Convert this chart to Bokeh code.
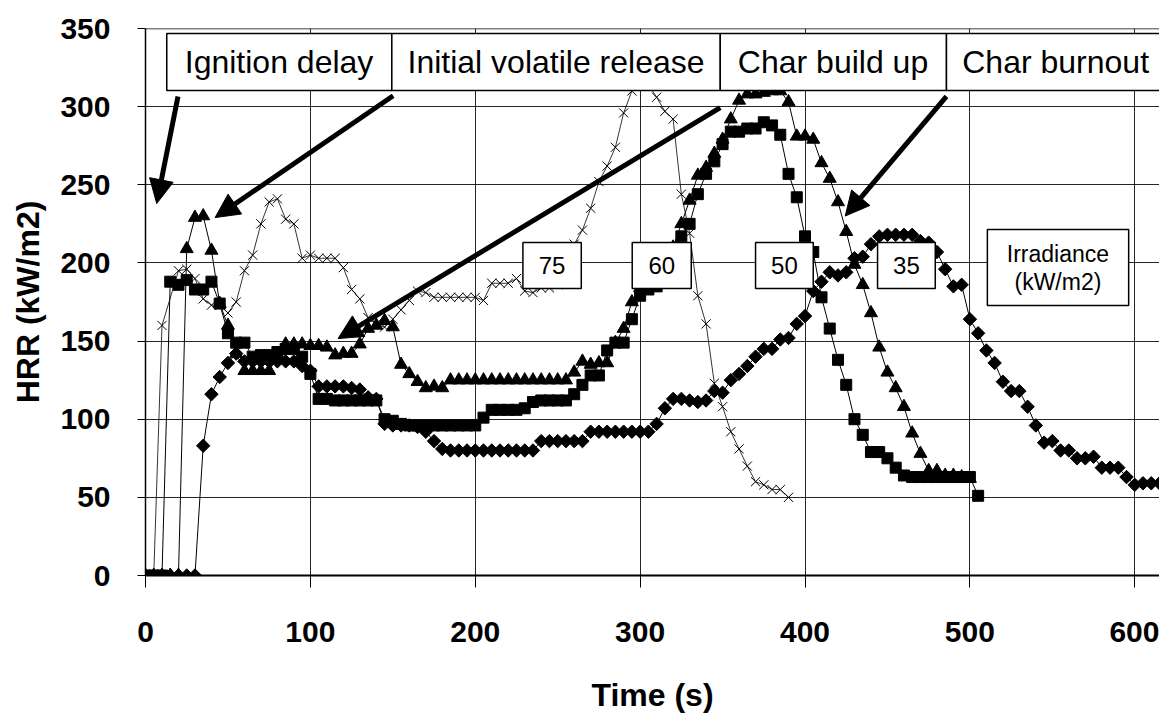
from bokeh.plotting import figure
from bokeh.models import Label, BoxAnnotation, Arrow, NormalHead, Span, FixedTicker, Range1d
from bokeh.embed import file_html
from bokeh.resources import INLINE
import numpy as np

# ---------------- data ----------------
t75 = [0, 5, 10, 20, 25, 30, 35, 40, 45, 50, 55, 60, 65, 70, 75, 80, 85, 90, 95, 100,
       105, 110, 115, 120, 125, 130, 135, 140, 145, 150, 155, 160, 165, 170, 175, 180,
       185, 190, 195, 200, 205, 210, 215, 220, 225, 230, 235, 240, 245, 250, 255, 260,
       265, 270, 275, 280, 285, 290, 295, 300, 305, 310, 315, 320, 325, 330, 335, 340,
       345, 350, 355, 360, 365, 370, 375, 380, 385, 390]
v75 = [0, 0, 160, 195, 196, 190, 177, 173, 173, 168, 175, 195, 205, 225, 239, 241, 228,
       225, 203, 205, 203, 203, 203, 197, 183, 177, 165, 161, 159, 164, 170, 176, 182,
       181, 178, 178, 178, 178, 178, 178, 176, 187, 187, 187, 190, 182, 181, 184, 184,
       186, 195, 212, 221, 235, 252, 262, 274, 296, 310, 318, 314, 306, 297, 292, 244,
       219, 179, 161, 123, 108, 92, 81, 70, 60, 58, 55, 55, 50]

t60 = [0, 5, 10, 15, 20, 25, 30, 35, 40, 45, 50, 55, 60, 65, 70, 75, 80, 85, 90, 95,
       100, 105, 110, 115, 120, 125, 130, 135, 140, 145, 150, 155, 160, 165, 170, 175,
       180, 185, 190, 195, 200, 205, 210, 215, 220, 225, 230, 235, 240, 245, 250, 255,
       260, 265, 270, 275, 280, 285, 290, 295, 300, 305, 310, 315, 320, 325, 330, 335,
       340, 345, 350, 355, 360, 365, 370, 375, 380, 385, 390, 395, 400, 405, 410, 415,
       420, 425, 430, 435, 440, 445, 450, 455, 460, 465, 470, 475, 480, 485, 490, 495, 500]
v60 = [0, 0, 0, 0, 0, 209, 229, 230, 208, 174, 160, 142, 131, 131, 131, 131, 140, 148,
       148, 148, 147, 147, 146, 141, 142, 142, 148, 158, 160, 163, 159, 135, 129, 124,
       120, 121, 120, 125, 125, 125, 125, 125, 125, 125, 125, 125, 125, 125, 125, 125,
       125, 125, 130, 137, 135, 136, 136, 149, 158, 175, 184, 190, 196, 202, 210, 225,
       240, 256, 261, 270, 279, 292, 304, 308, 308, 309, 310, 310, 303, 281, 281, 279,
       264, 254, 239, 220, 199, 186, 168, 146, 130, 120, 108, 91, 78, 67, 67, 64, 64, 63, 62]

t50 = [0, 5, 10, 15, 20, 25, 30, 35, 40, 45, 50, 55, 60, 65, 70, 75, 80, 85, 90, 95,
       100, 105, 110, 115, 120, 125, 130, 135, 140, 145, 150, 155, 160, 165, 170, 175,
       180, 185, 190, 195, 200, 205, 210, 215, 220, 225, 230, 235, 240, 245, 250, 255,
       260, 265, 270, 275, 280, 285, 290, 295, 300, 305, 310, 315, 320, 325, 330, 335,
       340, 345, 350, 355, 360, 365, 370, 375, 380, 385, 390, 395, 400, 405, 410, 415,
       420, 425, 430, 435, 440, 445, 450, 455, 460, 465, 470, 475, 480, 485, 490, 495,
       500, 505]
v50 = [0, 0, 0, 188, 186, 189, 183, 183, 188, 174, 155, 149, 149, 140, 141, 141, 143,
       145, 145, 140, 129, 113, 113, 112, 112, 112, 112, 112, 112, 100, 99, 97, 96, 96,
       96, 96, 96, 96, 96, 96, 96, 101, 106, 106, 106, 106, 107, 111, 112, 112, 112, 112,
       116, 122, 128, 128, 144, 149, 149, 164, 179, 183, 185, 190, 205, 217, 225, 244,
       257, 265, 276, 284, 284, 286, 286, 290, 288, 282, 257, 242, 217, 207, 178, 158,
       138, 122, 100, 90, 79, 79, 75, 69, 64, 63, 63, 63, 63, 63, 63, 63, 63, 51]

t35 = [0, 5, 10, 15, 20, 25, 30, 35, 40, 45, 50, 55, 60, 65, 70, 75, 80, 85, 90, 95,
       100, 105, 110, 115, 120, 125, 130, 135, 140, 145, 150, 155, 160, 165, 170, 175,
       180, 185, 190, 195, 200, 205, 210, 215, 220, 225, 230, 235, 240, 245, 250, 255,
       260, 265, 270, 275, 280, 285, 290, 295, 300, 305, 310, 315, 320, 325, 330, 335,
       340, 345, 350, 355, 360, 365, 370, 375, 380, 385, 390, 395, 400, 405, 410, 415,
       420, 425, 430, 435, 440, 445, 450, 455, 460, 465, 470, 475, 480, 485, 490, 495,
       500, 505, 510, 515, 520, 525, 530, 535, 540, 545, 550, 555, 560, 565, 570, 575,
       580, 585, 590, 595, 600, 605, 610, 615]
v35 = [0, 0, 0, 0, 0, 0, 0, 83, 116, 127, 136, 142, 137, 137, 137, 137, 137, 137, 137,
       134, 131, 121, 121, 121, 121, 120, 119, 114, 113, 97, 96, 96, 96, 95, 92, 86, 81,
       80, 80, 80, 80, 80, 80, 80, 80, 80, 80, 80, 86, 86, 86, 86, 86, 86, 92, 92, 92,
       92, 92, 92, 92, 92, 97, 107, 113, 113, 112, 111, 112, 118, 117, 125, 129, 134,
       140, 145, 145, 151, 152, 161, 166, 182, 188, 194, 192, 194, 203, 204, 212, 217,
       218, 218, 218, 218, 214, 213, 207, 196, 185, 186, 164, 155, 144, 136, 124, 118,
       118, 108, 96, 85, 86, 80, 80, 75, 75, 76, 69, 69, 69, 63, 58, 59, 59, 59]

x_ticks = [0, 100, 200, 300, 400, 500, 600]
y_ticks = [0, 50, 100, 150, 200, 250, 300, 350]

phase_labels = ["Ignition delay", "Initial volatile release", "Char build up", "Char burnout"]
irradiance_labels = ["75", "60", "50", "35"]

FONT = "Liberation Sans"

# ---------------- figure ----------------
p = figure(width=1159, height=715, output_backend="svg", toolbar_location=None,
           x_range=Range1d(0, 615), y_range=Range1d(0, 350),
           min_border_left=145, min_border_top=28, min_border_right=0,
           min_border_bottom=140)
p.background_fill_color = "white"
p.border_fill_color = "white"
p.outline_line_color = None

for ax in (p.xaxis[0], p.yaxis[0]):
    ax.major_label_text_font = FONT
    ax.major_label_text_font_style = "bold"
    ax.major_label_text_font_size = "30px"
    ax.major_label_text_color = "black"
    ax.axis_label_text_font = FONT
    ax.axis_label_text_font_style = "bold"
    ax.axis_label_text_font_size = "32px"
    ax.axis_label_text_color = "black"
    ax.axis_line_color = "black"
    ax.major_tick_line_color = "black"
    ax.minor_tick_line_color = None
    ax.major_tick_in = 0

p.xaxis.ticker = FixedTicker(ticks=x_ticks)
p.yaxis.ticker = FixedTicker(ticks=y_ticks)
p.xaxis.axis_label = "Time (s)"
p.yaxis.axis_label = "HRR (kW/m2)"
p.xaxis.major_tick_out = 12
p.yaxis.major_tick_out = 8
p.xaxis.axis_line_width = 2
p.yaxis.axis_line_width = 1.5
p.xaxis.major_label_standoff = 34
p.yaxis.major_label_standoff = 27
p.xaxis.axis_label_standoff = 32
p.yaxis.axis_label_standoff = 11

p.xgrid.ticker = FixedTicker(ticks=x_ticks)
p.ygrid.ticker = FixedTicker(ticks=y_ticks)
for g in (p.xgrid[0], p.ygrid[0]):
    g.grid_line_color = "black"
    g.grid_line_width = 1
    g.grid_line_alpha = 0.85

p.add_layout(Span(location=350, dimension="width", line_color="black", line_width=1.5))

# ---------------- series ----------------
p.line(t35, v35, line_color="black", line_width=1)
p.scatter(t35, v35, marker="square", angle=np.pi / 4, size=9.5, color="black")

p.line(t50, v50, line_color="black", line_width=1)
p.scatter(t50, v50, marker="square", size=11, color="black")

p.line(t60, v60, line_color="black", line_width=1)
p.scatter(t60, v60, marker="triangle", size=13, color="black")

p.line(t75, v75, line_color="black", line_width=0.8)
p.scatter(t75, v75, marker="x", size=13, line_color="black", line_width=1)

# ---------------- annotations ----------------
box_style = dict(fill_color="white", fill_alpha=1, line_color="black", line_width=1.5,
                 line_alpha=1)

# phase boxes along the top
phase_edges = [12.9, 149.4, 348.6, 485.8, 700]
phase_text_x = [81, 249, 417, 552]
for i, txt in enumerate(phase_labels):
    p.add_layout(BoxAnnotation(left=phase_edges[i], right=phase_edges[i + 1],
                               bottom=310.3, top=346.8, **box_style))
    p.add_layout(Label(x=phase_text_x[i], y=328.5, text=txt, text_align="center",
                       text_baseline="middle", text_font=FONT, text_font_size="32px",
                       text_color="black"))

# irradiance number boxes
num_left = [228.9, 295.2, 370.0, 444.0]
num_right = [264.3, 331.0, 405.0, 479.0]
for i, txt in enumerate(irradiance_labels):
    p.add_layout(BoxAnnotation(left=num_left[i], right=num_right[i],
                               bottom=183.6, top=213.0, **box_style))
    p.add_layout(Label(x=(num_left[i] + num_right[i]) / 2, y=198.3, text=txt,
                       text_align="center", text_baseline="middle", text_font=FONT,
                       text_font_size="24px", text_color="black"))

p.add_layout(BoxAnnotation(left=510.6, right=596.3, bottom=172.8, top=221.4, **box_style))
p.add_layout(Label(x=553.4, y=206, text="Irradiance", text_align="center",
                   text_baseline="middle", text_font=FONT, text_font_size="23px",
                   text_color="black"))
p.add_layout(Label(x=553.4, y=187.5, text="(kW/m2)", text_align="center",
                   text_baseline="middle", text_font=FONT, text_font_size="23px",
                   text_color="black"))

# arrows
arrows = [
    (19.7, 306.5, 6.8, 238.0),
    (150.2, 307.0, 42.2, 229.0),
    (348.6, 299.4, 116.8, 151.6),
    (485.8, 306.5, 424.4, 230.0),
]
for xs, ys, xe, ye in arrows:
    p.add_layout(Arrow(end=NormalHead(size=24, fill_color="black", line_color="black",
                                      line_width=1),
                       x_start=xs, y_start=ys, x_end=xe, y_end=ye,
                       line_width=5, line_color="black"))

open("out.html", "w").write(file_html(p, INLINE))
